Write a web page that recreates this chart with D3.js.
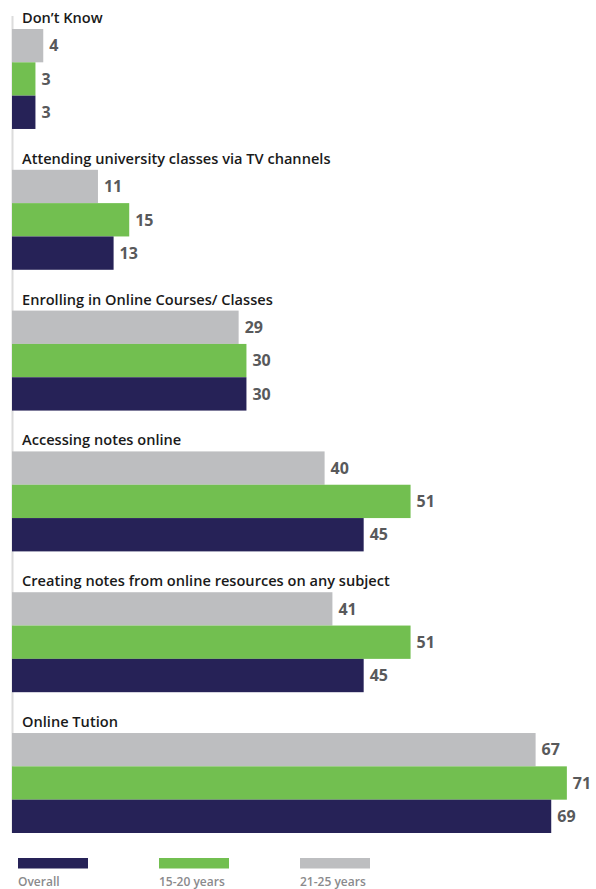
<!DOCTYPE html>
<html>
<head>
<meta charset="utf-8">
<script src="https://cdn.jsdelivr.net/npm/d3@7"></script>
<style>
  html, body { margin: 0; padding: 0; background: #fff; }
  svg { display: block; font-family: "Open Sans", "DejaVu Sans", sans-serif; }
</style>
</head>
<body>
<svg id="chart" width="596" height="889"></svg>
<script>
// Survey categories, top to bottom
const categories = [
  "Don\u2019t Know",
  "Attending university classes via TV channels",
  "Enrolling in Online Courses/ Classes",
  "Accessing notes online",
  "Creating notes from online resources on any subject",
  "Online Tution"
];

// Series (drawn top to bottom inside each group)
const seriesNames = ["21-25 years", "15-20 years", "Overall"];
const age21to25 = [4, 11, 29, 40, 41, 67];
const age15to20 = [3, 15, 30, 51, 51, 71];
const overall   = [3, 13, 30, 45, 45, 69];

// Legend order, left to right
const legendNames = ["Overall", "15-20 years", "21-25 years"];

const colors = {
  "Overall": "#262257",
  "15-20 years": "#72bf50",
  "21-25 years": "#bdbec0"
};

const seriesValues = {
  "21-25 years": age21to25,
  "15-20 years": age15to20,
  "Overall": overall
};

const svg = d3.select("#chart");

const x = d3.scaleLinear().domain([0, 100]).range([12, 12 + 781.5]);

const yGroup = d3.scaleBand()
  .domain(categories)
  .range([29, 833])
  .paddingInner(0.29)
  .paddingOuter(0);

const ySeries = d3.scaleBand()
  .domain(seriesNames)
  .range([0, yGroup.bandwidth()])
  .padding(0);

// Vertical baseline
svg.append("line")
  .attr("x1", 12.5).attr("x2", 12.5)
  .attr("y1", 16).attr("y2", 833)
  .attr("stroke", "#dcdcdc")
  .attr("stroke-width", 2);

const groups = svg.selectAll("g.group")
  .data(categories)
  .join("g")
  .attr("class", "group")
  .attr("transform", d => `translate(0,${yGroup(d)})`);

groups.append("text")
  .attr("x", 22)
  .attr("y", -6)
  .attr("fill", "#1a1a1a")
  .attr("font-size", 14.6)
  .attr("font-weight", 600)
  .text(d => d);

groups.each(function(cat, i) {
  const g = d3.select(this);
  const rows = seriesNames.map(s => ({ s, v: seriesValues[s][i] }));

  g.selectAll("rect")
    .data(rows)
    .join("rect")
    .attr("x", x(0))
    .attr("y", d => ySeries(d.s))
    .attr("width", d => x(d.v) - x(0))
    .attr("height", ySeries.bandwidth())
    .attr("fill", d => colors[d.s]);

  g.selectAll("text.value")
    .data(rows)
    .join("text")
    .attr("class", "value")
    .attr("x", d => x(d.v) + 6)
    .attr("y", d => ySeries(d.s) + ySeries.bandwidth() / 2)
    .attr("dy", "0.36em")
    .attr("fill", "#58595b")
    .attr("font-size", 16)
    .attr("font-weight", 700)
    .text(d => d.v);
});

// Legend
const legend = svg.selectAll("g.legend")
  .data(legendNames)
  .join("g")
  .attr("class", "legend")
  .attr("transform", (d, i) => `translate(${18 + i * 141},858)`);

legend.append("rect")
  .attr("width", 70)
  .attr("height", 10.5)
  .attr("fill", d => colors[d]);

legend.append("text")
  .attr("x", 0)
  .attr("y", 28)
  .attr("fill", "#8a8a8c")
  .attr("font-size", 12)
  .attr("font-weight", 600)
  .text(d => d);
</script>
</body>
</html>
